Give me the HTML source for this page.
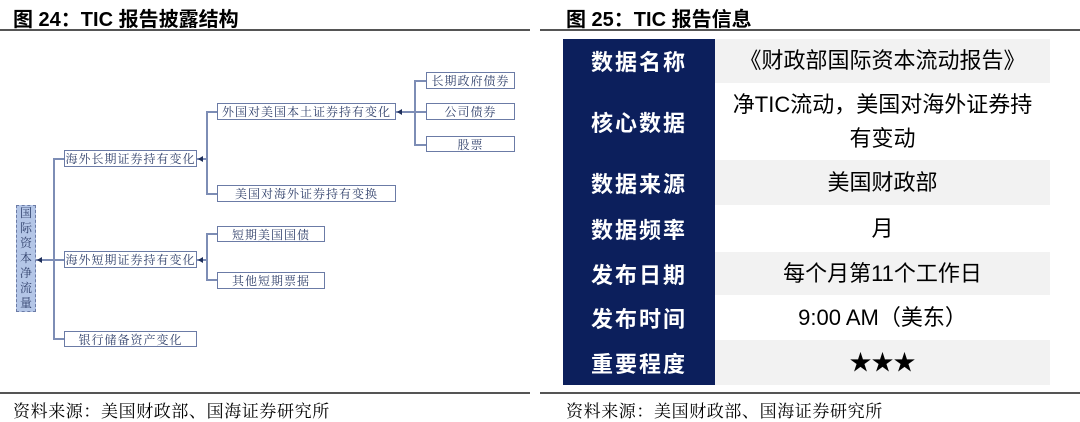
<!DOCTYPE html>
<html><head><meta charset="utf-8"><style>
*{margin:0;padding:0;box-sizing:border-box}
body{width:1080px;height:419px;background:#fff;position:relative;overflow:hidden;font-family:"Liberation Sans","Noto Sans CJK SC",sans-serif}
.a{position:absolute}
.t{font-weight:bold;font-size:20px;color:#000;top:3px;white-space:nowrap}
.hl{height:2px;background:#555}
.f{font-family:"Liberation Serif","Noto Serif CJK SC",serif;font-size:17px;letter-spacing:0.6px;top:397px;white-space:nowrap}
.b{position:absolute;border:1.5px solid #6b7ba6;background:#fff;color:#2f3f6a;font-family:"Liberation Serif","Noto Serif CJK SC",serif;font-size:12px;display:flex;align-items:center;justify-content:center;letter-spacing:1px;white-space:nowrap}
.l{position:absolute;background:#7d8db5}
.ar{position:absolute;width:0;height:0;border-top:3px solid transparent;border-bottom:3px solid transparent;border-right:5px solid #1f2f5a}
.r{position:absolute;left:715px;width:335px;display:flex;align-items:center;justify-content:center;font-size:22px;color:#000;text-align:center;line-height:34px}
.g{background:#f2f2f2}
.k{position:absolute;left:563px;width:152px;display:flex;align-items:center;justify-content:center;font-size:22px;color:#fff;font-weight:bold;letter-spacing:2px}
</style></head><body>
<div class="a t" style="left:13px">图 24：TIC 报告披露结构</div>
<div class="a t" style="left:566px">图 25：TIC 报告信息</div>
<div class="a hl" style="left:0;top:29px;width:530px"></div>
<div class="a hl" style="left:540px;top:29px;width:540px"></div>
<div class="a hl" style="left:0;top:392px;width:530px"></div>
<div class="a hl" style="left:540px;top:392px;width:540px"></div>
<div class="a f" style="left:13px">资料来源：美国财政部、国海证券研究所</div>
<div class="a f" style="left:566px">资料来源：美国财政部、国海证券研究所</div>

<div class="l" style="left:53px;top:158px;width:2px;height:181px"></div>
<div class="l" style="left:53px;top:158px;width:11px;height:2px"></div>
<div class="l" style="left:53px;top:338px;width:11px;height:2px"></div>
<div class="l" style="left:36px;top:259px;width:28px;height:2px"></div>
<div class="ar" style="left:37px;top:257px"></div>
<div class="l" style="left:206px;top:111px;width:2px;height:83px"></div>
<div class="l" style="left:206px;top:111px;width:11px;height:2px"></div>
<div class="l" style="left:206px;top:193px;width:11px;height:2px"></div>
<div class="l" style="left:197px;top:158px;width:10px;height:2px"></div>
<div class="ar" style="left:198px;top:156px"></div>
<div class="l" style="left:206px;top:233px;width:2px;height:48px"></div>
<div class="l" style="left:206px;top:233px;width:11px;height:2px"></div>
<div class="l" style="left:206px;top:279px;width:11px;height:2px"></div>
<div class="l" style="left:197px;top:259px;width:10px;height:2px"></div>
<div class="ar" style="left:198px;top:257px"></div>
<div class="l" style="left:414px;top:80px;width:2px;height:65px"></div>
<div class="l" style="left:414px;top:80px;width:12px;height:2px"></div>
<div class="l" style="left:396px;top:111px;width:30px;height:2px"></div>
<div class="l" style="left:414px;top:144px;width:12px;height:2px"></div>
<div class="ar" style="left:397px;top:109px"></div>

<div class="b" style="left:16px;top:205px;width:20px;height:107px;background:#b4c6e7;border:1.5px dashed #6b7ba6;flex-direction:column;line-height:15px;letter-spacing:0">国<br>际<br>资<br>本<br>净<br>流<br>量</div>
<div class="b" style="left:64px;top:150px;width:133px;height:17px">海外长期证券持有变化</div>
<div class="b" style="left:64px;top:251px;width:133px;height:17px">海外短期证券持有变化</div>
<div class="b" style="left:64px;top:331px;width:133px;height:16px">银行储备资产变化</div>
<div class="b" style="left:217px;top:103px;width:179px;height:17px">外国对美国本土证券持有变化</div>
<div class="b" style="left:217px;top:185px;width:179px;height:17px">美国对海外证券持有变换</div>
<div class="b" style="left:217px;top:226px;width:108px;height:16px">短期美国国债</div>
<div class="b" style="left:217px;top:272px;width:108px;height:17px">其他短期票据</div>
<div class="b" style="left:426px;top:72px;width:89px;height:17px">长期政府债券</div>
<div class="b" style="left:426px;top:103px;width:89px;height:17px">公司债券</div>
<div class="b" style="left:426px;top:136px;width:89px;height:16px">股票</div>

<div class="a" style="left:563px;top:39px;width:152px;height:346px;background:#0c1f5c"></div>
<div class="k" style="top:39px;height:44px">数据名称</div>
<div class="k" style="top:83px;height:77px">核心数据</div>
<div class="k" style="top:160px;height:45px">数据来源</div>
<div class="k" style="top:205px;height:47px">数据频率</div>
<div class="k" style="top:252px;height:43px">发布日期</div>
<div class="k" style="top:295px;height:45px">发布时间</div>
<div class="k" style="top:340px;height:45px">重要程度</div>
<div class="r g" style="top:39px;height:44px">《财政部国际资本流动报告》</div>
<div class="r" style="top:83px;height:77px;padding:0 10px">净TIC流动，美国对海外证券持有变动</div>
<div class="r g" style="top:160px;height:45px">美国财政部</div>
<div class="r" style="top:205px;height:47px">月</div>
<div class="r g" style="top:252px;height:43px">每个月第11个工作日</div>
<div class="r" style="top:295px;height:45px">9:00 AM（美东）</div>
<div class="r g" style="top:340px;height:45px">★★★</div>
</body></html>
